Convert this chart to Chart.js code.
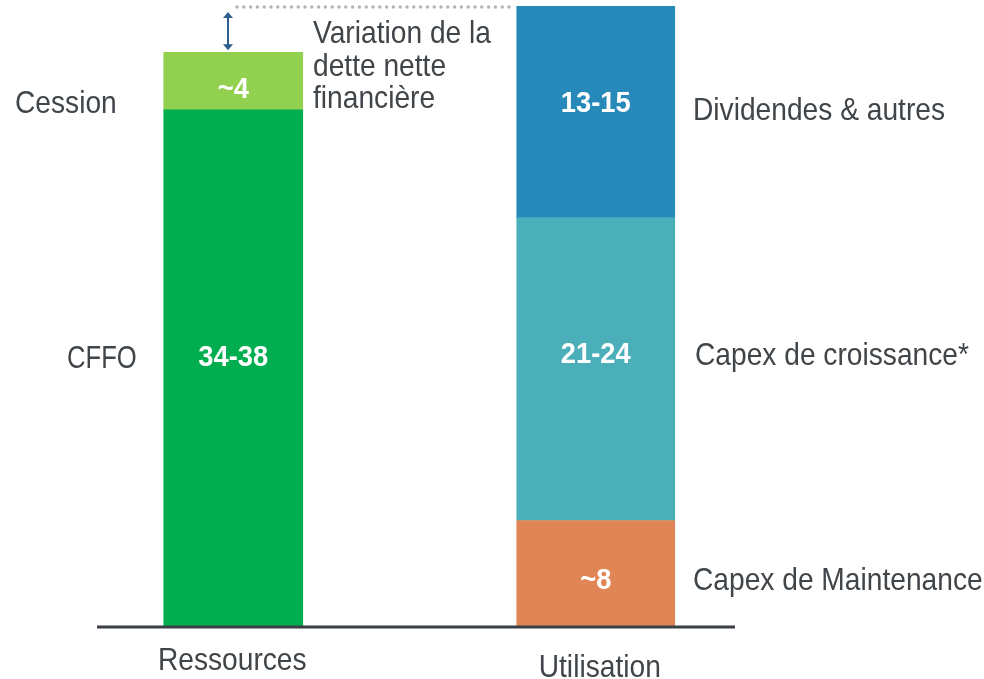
<!DOCTYPE html>
<html>
<head>
<meta charset="utf-8">
<script src="https://cdn.jsdelivr.net/npm/chart.js@4.4.1/dist/chart.umd.min.js"></script>
<style>
  html, body { margin: 0; padding: 0; background: #ffffff; }
  #wrap { width: 984px; height: 679px; position: relative; }
</style>
</head>
<body>
<div id="wrap"><canvas id="c" width="984" height="679"></canvas></div>
<script>
// ---- Data (approximate) ----
const categories = ["Ressources", "Utilisation"];
const ressourcesSegments = ["CFFO", "Cession"];
const ressourcesValues = [36.9, 4.1];
const ressourcesLabels = ["34-38", "~4"];
const utilisationSegments = ["Capex de Maintenance", "Capex de croissance*", "Dividendes & autres"];
const utilisationValues = [7.6, 21.6, 15.1];
const utilisationLabels = ["~8", "21-24", "13-15"];
const annotationText = ["Variation de la", "dette nette", "financière"];

const FONT = '"Liberation Sans", Arial, sans-serif';
const TEXT_COLOR = '#404549';
const resColors = ['#00AE4F', '#92D050'];
const utiColors = ['#E08656', '#4BAFBA', '#2789BA'];

const datasets = [];
ressourcesValues.forEach((v, i) => datasets.push({
  label: ressourcesSegments[i], data: [v, null], valueLabel: ressourcesLabels[i],
  backgroundColor: resColors[i], barThickness: 139, stack: 's', borderWidth: 0
}));
utilisationValues.forEach((v, i) => datasets.push({
  label: utilisationSegments[i], data: [null, v], valueLabel: utilisationLabels[i],
  backgroundColor: utiColors[i], barThickness: 158, stack: 's', borderWidth: 0
}));

const totalRes = ressourcesValues.reduce((a, b) => a + b, 0);
const totalUti = utilisationValues.reduce((a, b) => a + b, 0);

// draw horizontally condensed text (emulates a narrow typeface)
function narrowText(ctx, text, x, y, align, sx) {
  ctx.save();
  ctx.translate(x, y);
  ctx.scale(sx, 1);
  ctx.textAlign = align;
  ctx.fillText(text, 0, 0);
  ctx.restore();
}

const overlay = {
  id: 'overlay',
  afterDatasetsDraw(chart) {
    const ctx = chart.ctx;
    const y = chart.scales.y;
    const x = chart.scales.x;
    const base = y.getPixelForValue(0);

    // baseline axis
    ctx.save();
    ctx.strokeStyle = '#3A3F44';
    ctx.lineWidth = 3;
    ctx.beginPath();
    ctx.moveTo(97, base);
    ctx.lineTo(735, base);
    ctx.stroke();
    ctx.restore();

    // value labels inside bars
    const valOffsets = { "CFFO": -11, "Cession": 9, "Capex de Maintenance": 7, "Capex de croissance*": -14, "Dividendes & autres": -8 };
    ctx.save();
    ctx.fillStyle = '#ffffff';
    ctx.font = 'bold 30px ' + FONT;
    ctx.textBaseline = 'middle';
    chart.data.datasets.forEach((ds, di) => {
      const meta = chart.getDatasetMeta(di);
      meta.data.forEach((bar, idx) => {
        if (ds.data[idx] == null) return;
        const cy = (bar.y + bar.base) / 2 + (valOffsets[ds.label] || 0);
        narrowText(ctx, ds.valueLabel, bar.x, cy, 'center', 0.91);
      });
    });
    ctx.restore();

    // segment names
    const SX = 0.88;
    ctx.save();
    ctx.fillStyle = TEXT_COLOR;
    ctx.font = '32px ' + FONT;
    ctx.textBaseline = 'alphabetic';
    narrowText(ctx, ressourcesSegments[1], 15, 113, 'left', SX);
    narrowText(ctx, ressourcesSegments[0], 67, 368, 'left', 0.8);
    narrowText(ctx, utilisationSegments[2], 693, 120, 'left', SX);
    narrowText(ctx, utilisationSegments[1], 695, 365, 'left', SX);
    narrowText(ctx, utilisationSegments[0], 693, 590, 'left', SX);
    // annotation
    annotationText.forEach((t, i) => narrowText(ctx, t, 313, 43 + i * 32.5, 'left', SX));
    // categories
    narrowText(ctx, categories[0], x.getPixelForValue(0) - 1, 670, 'center', SX);
    narrowText(ctx, categories[1], x.getPixelForValue(1) + 4, 677, 'center', SX);
    ctx.restore();

    // dotted line at total of utilisation
    const topY = y.getPixelForValue(totalUti);
    const resTop = y.getPixelForValue(totalRes);
    ctx.save();
    ctx.strokeStyle = '#B5B5B5';
    ctx.lineWidth = 3.5;
    ctx.lineCap = 'round';
    ctx.setLineDash([0, 6.8]);
    ctx.beginPath();
    ctx.moveTo(237, topY + 1);
    ctx.lineTo(512, topY + 1);
    ctx.stroke();
    ctx.restore();

    // double arrow
    const ax = 228, y1 = topY + 6, y2 = resTop - 2;
    ctx.save();
    ctx.strokeStyle = '#2E5E8E';
    ctx.fillStyle = '#2E5E8E';
    ctx.lineWidth = 2;
    ctx.beginPath();
    ctx.moveTo(ax, y1 + 4);
    ctx.lineTo(ax, y2 - 4);
    ctx.stroke();
    ctx.beginPath();
    ctx.moveTo(ax, y1); ctx.lineTo(ax - 5, y1 + 6); ctx.lineTo(ax + 5, y1 + 6); ctx.closePath(); ctx.fill();
    ctx.beginPath();
    ctx.moveTo(ax, y2); ctx.lineTo(ax - 5, y2 - 6); ctx.lineTo(ax + 5, y2 - 6); ctx.closePath(); ctx.fill();
    ctx.restore();
  }
};

new Chart(document.getElementById('c'), {
  type: 'bar',
  data: { labels: categories, datasets },
  options: {
    responsive: false,
    animation: false,
    layout: { padding: { top: 6, bottom: 52, left: 52, right: 207 } },
    plugins: { legend: { display: false }, tooltip: { enabled: false } },
    scales: {
      x: { display: false, stacked: true },
      y: { display: false, stacked: true, min: 0, max: Math.max(totalRes, totalUti) }
    }
  },
  plugins: [overlay]
});
</script>
</body>
</html>
